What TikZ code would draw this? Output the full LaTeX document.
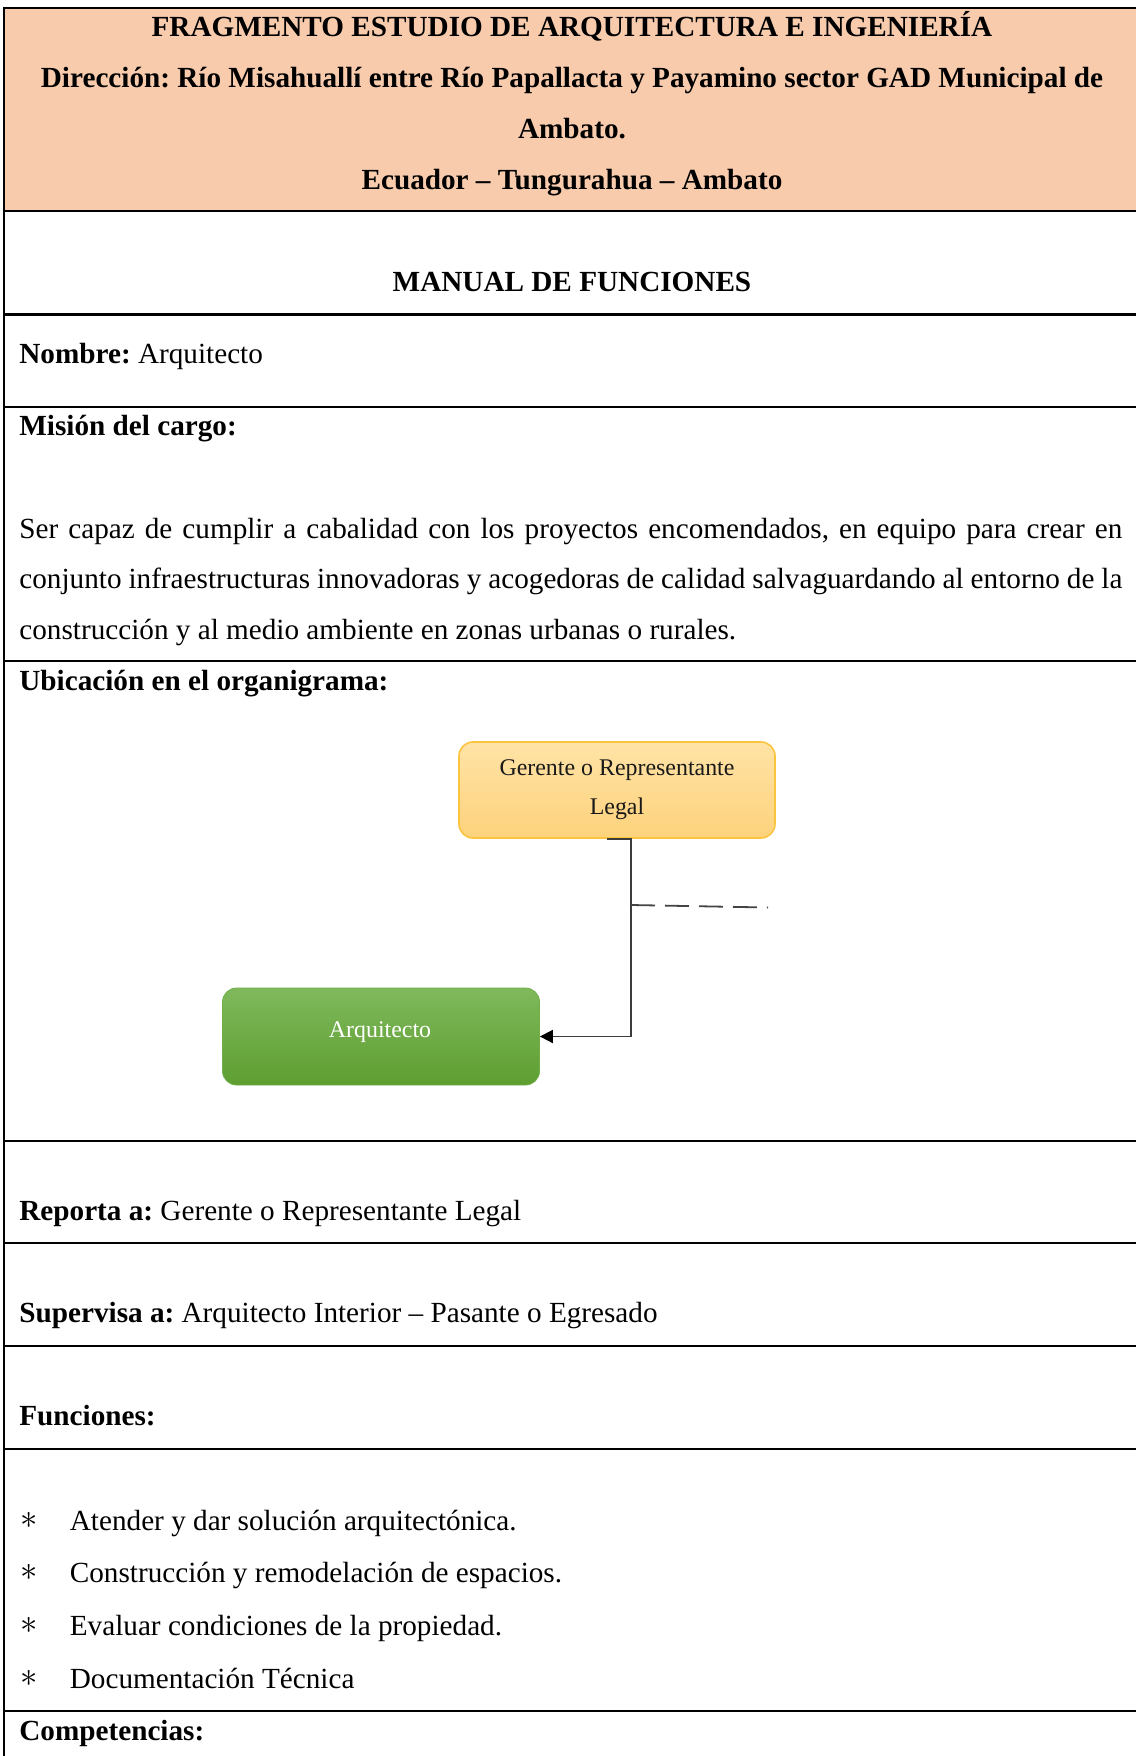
\documentclass[tikz,border=0pt]{standalone}
\usepackage{fontspec}
\setmainfont{Liberation Serif}
\usetikzlibrary{arrows.meta,calc}
\frenchspacing
\newcommand\bodysize{\fontsize{14.6pt}{25.25pt}\selectfont\frenchspacing}
\newcommand\boxsize{\fontsize{11.95pt}{19.5pt}\selectfont}
\definecolor{hdrfill}{HTML}{F8CBAD}
\definecolor{gertop}{HTML}{FFE3A6}
\definecolor{gerbot}{HTML}{FDD27C}
\definecolor{gerline}{HTML}{FBC43E}
\definecolor{arqtop}{HTML}{7FB95C}
\definecolor{arqbot}{HTML}{5E9E30}
\definecolor{arqline}{HTML}{6FAE48}
\definecolor{connc}{HTML}{3C3C3C}
\definecolor{dashc}{HTML}{444444}
\begin{document}
\begin{tikzpicture}[x=0.5pt,y=-0.5pt,
  rule/.style={draw=black,line width=1.1pt},
  hd/.style={inner sep=0pt,anchor=base,font=\bodysize\bfseries},
  txt/.style={inner sep=0pt,anchor=base west,font=\bodysize},
  bul/.style={inner sep=0pt,anchor=base,font=\bodysize},
  gerbox/.style={rounded corners=7pt,draw=gerline,line width=0.8pt,
    top color=gertop,bottom color=gerbot,minimum width=158pt,minimum height=48pt,
    inner sep=0pt,align=center,font=\boxsize,text=black!90},
  arqbox/.style={rounded corners=7pt,draw=arqline,line width=0.4pt,
    top color=arqtop,bottom color=arqbot,minimum width=158.5pt,minimum height=48.5pt,
    inner sep=0pt},
  arqtxt/.style={inner sep=0pt,font=\boxsize,text=white},
  conn/.style={draw=connc,line width=0.9pt,-{Triangle[length=6.5pt,width=6.5pt,color=black]}},
  dashline/.style={draw=dashc,line width=0.9pt,dash pattern=on 12pt off 5pt}
]
\useasboundingbox (0,0) rectangle (1136,1756);
% header fill
\fill[hdrfill] (4,8) rectangle (1136,211);
% table rules
\draw[rule] (1136,8) -- (4,8) -- (4,1756);
\foreach \yy in {211,314.5,407,661,1141,1243,1346,1449,1711}
  \draw[rule] (4,\yy) -- (1136,\yy);
% header texts
\node[hd] (h1) at (572,36.5) {FRAGMENTO ESTUDIO DE ARQUITECTURA E INGENIERÍA};
\node[hd] (h2) at (572,87) {Dirección: Río Misahuallí entre Río Papallacta y Payamino sector GAD Municipal de};
\node[hd] (h3) at (572,138) {Ambato.};
\node[hd] (h4) at (572,189) {Ecuador – Tungurahua – Ambato};
\node[hd] (man) at (572,291) {MANUAL DE FUNCIONES};
% fields
\node[txt] (nom) at (19,363.5) {\textbf{Nombre:} Arquitecto};
\node[txt] (mis) at (19,435) {\textbf{Misión del cargo:}};
\node[txt,text width=551.5pt,align=justify] (mtext) at (19,538)
  {\hyphenpenalty=10000 Ser capaz de cumplir a cabalidad con los proyectos encomendados, en equipo para crear en\linebreak
   conjunto infraestructuras innovadoras y acogedoras de calidad salvaguardando al entorno de la\linebreak
   construcción y al medio ambiente en zonas urbanas o rurales.};
\node[txt] (ubi) at (19,690.5) {\textbf{Ubicación en el organigrama:}};
% org chart
\node[gerbox] (ger) at (617,790) {\raisebox{-1.5pt}{Gerente o Representante}\\\raisebox{-1.5pt}{Legal}};
\node[arqbox] (arq) at (381,1036.5) {};
\node[arqtxt] (arqt) at (380,1032) {Arquitecto};
\coordinate (s) at ($(ger.south west)!0.467!(ger.south east)$);
\coordinate (bend) at (631,900);
\draw[conn] (s) -- (s -| bend) -- (bend |- arq.east) -- (arq.east);
\coordinate (d1) at (631,905);
\coordinate (d2) at (768,907.5);
\draw[dashline] (d1) -- (d2);
% more fields
\node[txt] (rep) at (19,1220) {\textbf{Reporta a:} Gerente o Representante Legal};
\node[txt] (sup) at (19,1322) {\textbf{Supervisa a:} Arquitecto Interior – Pasante o Egresado};
\node[txt] (fun) at (19,1425) {\textbf{Funciones:}};
% bullets
\node[bul] (b1) at (29,1528) {\scalebox{1.2}{$\ast$}};
\node[txt] (f1) at (69.5,1530) {Atender y dar solución arquitectónica.};
\node[bul] (b2) at (29,1580) {\scalebox{1.2}{$\ast$}};
\node[txt] (f2) at (69.5,1582) {Construcción y remodelación de espacios.};
\node[bul] (b3) at (29,1633) {\scalebox{1.2}{$\ast$}};
\node[txt] (f3) at (69.5,1635) {Evaluar condiciones de la propiedad.};
\node[bul] (b4) at (29,1686) {\scalebox{1.2}{$\ast$}};
\node[txt] (f4) at (69.5,1688) {Documentación Técnica};
\node[txt] (comp) at (19,1740) {\textbf{Competencias:}};
\end{tikzpicture}
\end{document}
